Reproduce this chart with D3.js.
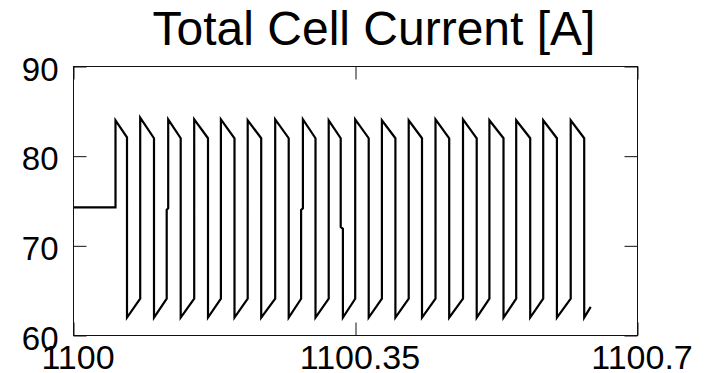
<!DOCTYPE html>
<html>
<head>
<meta charset="utf-8">
<script src="https://cdn.jsdelivr.net/npm/d3@7"></script>
<style>
  html, body { margin: 0; padding: 0; background: #ffffff; }
  svg { display: block; }
</style>
</head>
<body>
<svg id="chart" width="708" height="373"></svg>
<script>
// Time samples [s] and total cell current [A]
const times = [
  1100.00000, 1100.05213, 1100.05213, 1100.06640, 1100.06640,
  1100.08278, 1100.08278, 1100.09991, 1100.09991,
  1100.11568, 1100.11568, 1100.11754, 1100.11754, 1100.13305, 1100.13305,
  1100.14981, 1100.14981, 1100.16694, 1100.16694,
  1100.18295, 1100.18295, 1100.19983, 1100.19983,
  1100.21621, 1100.21621, 1100.23297, 1100.23297,
  1100.25034, 1100.25034, 1100.26710, 1100.26710,
  1100.28249, 1100.28249, 1100.28472, 1100.28472, 1100.30036, 1100.30036,
  1100.31675, 1100.31675, 1100.33164, 1100.33164, 1100.33437, 1100.33437,
  1100.34963, 1100.34963, 1100.36639, 1100.36639,
  1100.38277, 1100.38277, 1100.39953, 1100.39953,
  1100.41604, 1100.41604, 1100.43254, 1100.43254,
  1100.44930, 1100.44930, 1100.46630, 1100.46630,
  1100.48343, 1100.48343, 1100.50043, 1100.50043,
  1100.51620, 1100.51620, 1100.53370, 1100.53370,
  1100.54946, 1100.54946, 1100.56684, 1100.56684,
  1100.58297, 1100.58297, 1100.59998, 1100.59998,
  1100.61710, 1100.61710, 1100.63386, 1100.63386,
  1100.64193
];
const currents = [
  74.3, 74.3, 84.0, 82.1, 62.0,
  64.1, 84.3, 82.0, 62.0,
  64.1, 74.0, 74.2, 84.1, 82.0, 62.0,
  64.1, 84.1, 82.0, 62.0,
  64.1, 84.1, 82.0, 62.0,
  64.1, 84.0, 82.0, 62.0,
  64.1, 84.1, 82.0, 62.0,
  64.1, 74.0, 74.2, 84.1, 82.0, 62.0,
  64.1, 84.0, 82.0, 72.1, 71.9, 62.0,
  64.1, 84.1, 82.0, 62.0,
  64.1, 84.0, 82.0, 62.0,
  64.1, 84.0, 82.0, 62.0,
  64.1, 84.1, 82.0, 62.0,
  64.1, 84.1, 82.0, 62.0,
  64.1, 84.0, 82.0, 62.0,
  64.1, 84.0, 82.0, 62.0,
  64.1, 84.0, 82.0, 62.0,
  64.1, 84.0, 82.0, 62.0,
  63.2
];

const xTicks = [1100, 1100.35, 1100.7];
const xTickLabels = ["1100", "1100.35", "1100.7"];
const yTicks = [60, 70, 80, 90];
const yTickLabels = ["60", "70", "80", "90"];
const titleText = "Total Cell Current [A]";

const svg = d3.select("#chart");
const font = "'Liberation Sans', Arial, Helvetica, sans-serif";

const plot = { left: 73, top: 66, right: 637, bottom: 335 };

const x = d3.scaleLinear().domain([1100, 1100.7]).range([plot.left + 0.5, plot.right + 0.5]);
const y = d3.scaleLinear().domain([60, 90]).range([plot.bottom + 0.5, plot.top + 0.5]);

const tickLen = 13;

// Signal trace
const data = times.map((t, i) => ({ t, v: currents[i] }));
svg.append("path")
  .datum(data)
  .attr("fill", "none")
  .attr("stroke", "#000")
  .attr("stroke-width", 2.2)
  .attr("stroke-linejoin", "miter")
  .attr("d", d3.line().x(d => x(d.t)).y(d => y(d.v)));

// Axes box
svg.append("rect")
  .attr("x", plot.left + 0.5).attr("y", plot.top + 0.5)
  .attr("width", plot.right - plot.left).attr("height", plot.bottom - plot.top)
  .attr("fill", "none").attr("stroke", "#111").attr("stroke-width", 1);

function styleAxis(size) {
  return g => {
    g.select(".domain").remove();
    g.selectAll(".tick line").attr("stroke", "#111").attr("stroke-width", 1);
    g.selectAll(".tick text")
      .attr("fill", "#000")
      .style("font-family", font)
      .style("font-size", size + "px");
  };
}

// Left axis with labels
svg.append("g")
  .attr("transform", `translate(${plot.left + 0.5},0)`)
  .call(d3.axisLeft(y).tickValues(yTicks).tickSize(-tickLen).tickPadding(15)
    .tickFormat((d, i) => yTickLabels[i]))
  .call(styleAxis(33))
  .call(g => g.selectAll(".tick text").attr("dy", null).attr("y", 13.5));

// Right axis ticks
svg.append("g")
  .attr("transform", `translate(${plot.right + 0.5},0)`)
  .call(d3.axisRight(y).tickValues(yTicks).tickSize(-tickLen).tickFormat(""))
  .call(styleAxis(33));

// Bottom axis with labels
svg.append("g")
  .attr("transform", `translate(0,${plot.bottom + 0.5})`)
  .call(d3.axisBottom(x).tickValues(xTicks).tickSize(-tickLen).tickPadding(0)
    .tickFormat((d, i) => xTickLabels[i]))
  .call(styleAxis(34))
  .call(g => g.selectAll(".tick text").attr("dy", null).attr("y", 33).attr("x", 4));

// Top axis ticks
svg.append("g")
  .attr("transform", `translate(0,${plot.top + 0.5})`)
  .call(d3.axisTop(x).tickValues(xTicks).tickSize(-tickLen).tickFormat(""))
  .call(styleAxis(33));

// Title
svg.append("text")
  .attr("x", 374).attr("y", 45)
  .attr("text-anchor", "middle")
  .style("font-family", font)
  .style("font-size", "48px")
  .attr("fill", "#000")
  .text(titleText);
</script>
</body>
</html>
